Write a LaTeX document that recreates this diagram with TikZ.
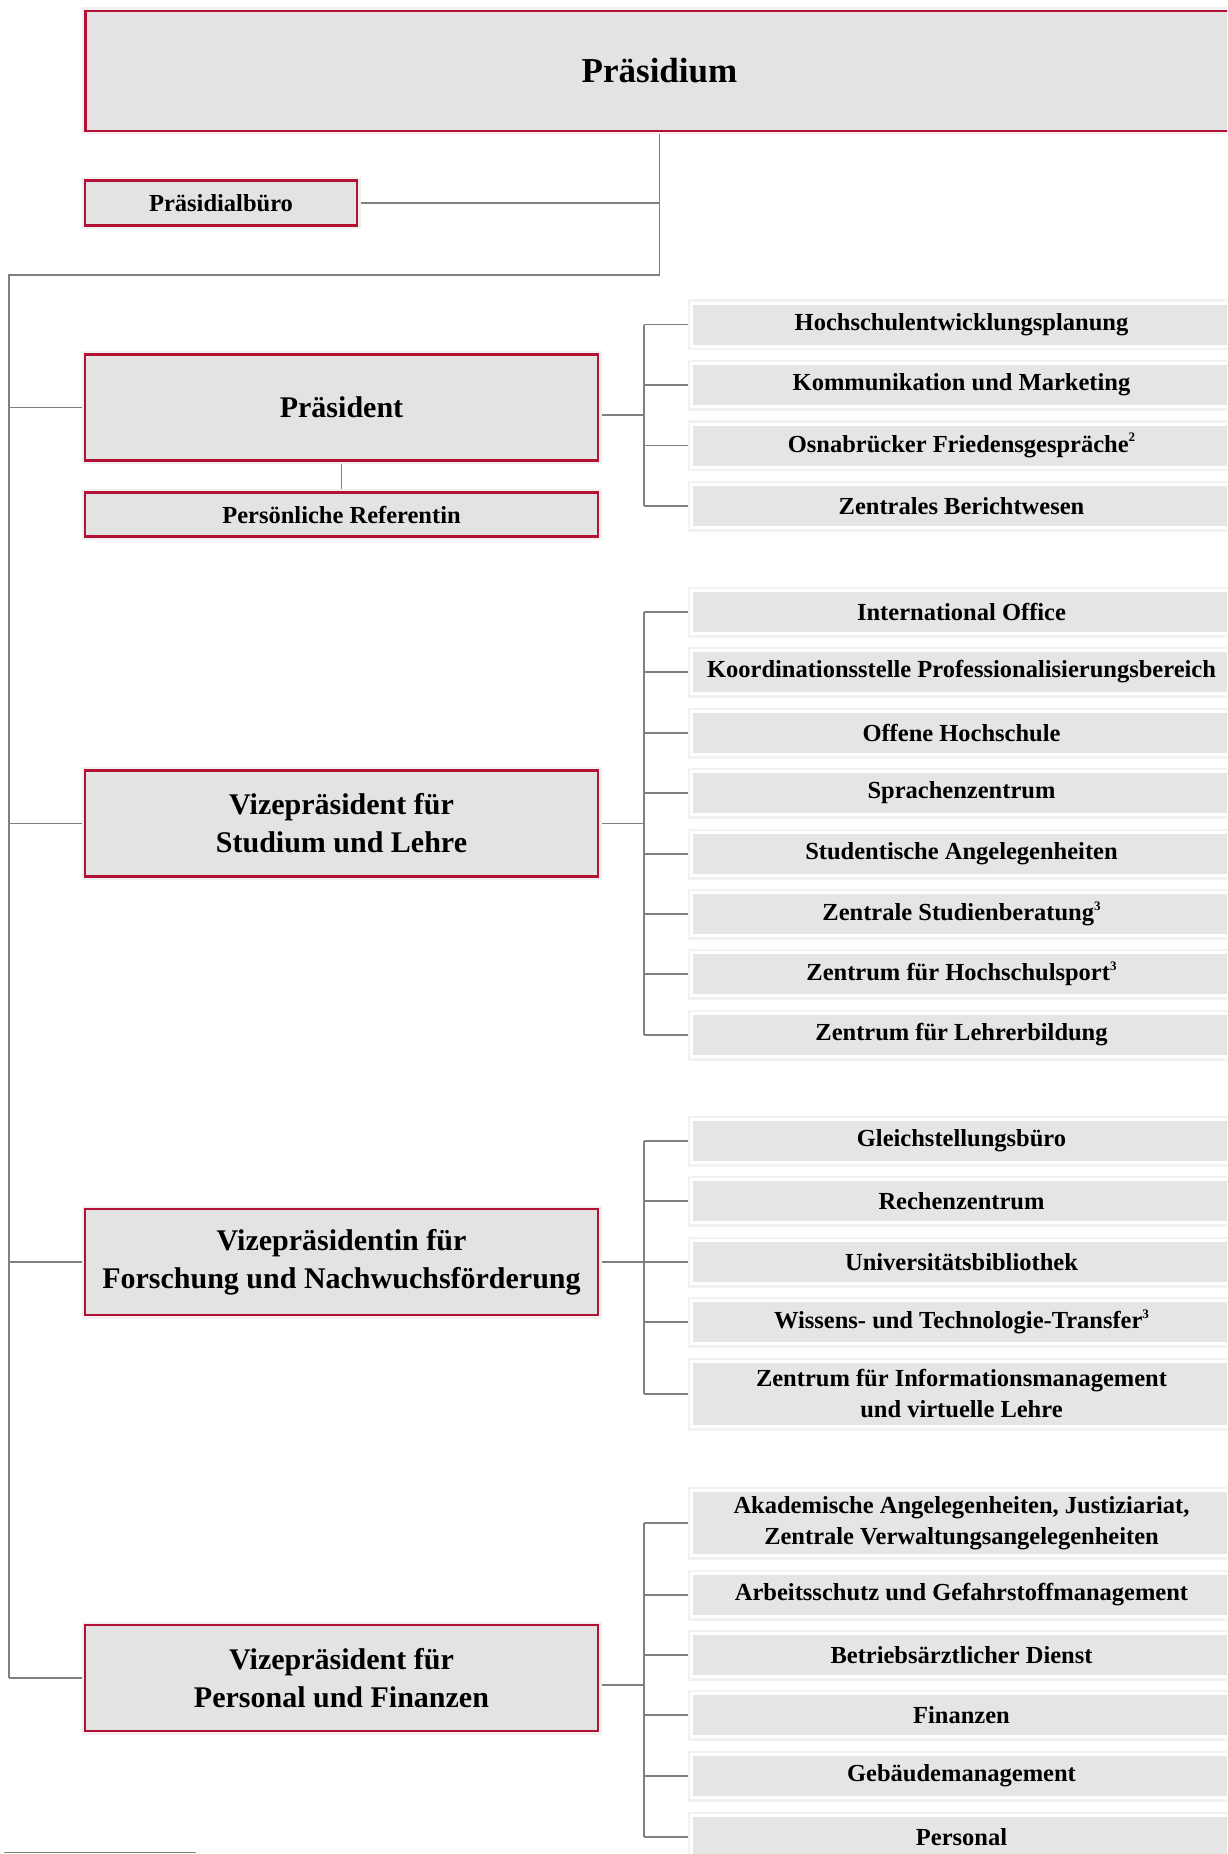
\documentclass[tikz,border=0pt]{standalone}
\usepackage{fontspec}
\setmainfont{Liberation Serif}
\usetikzlibrary{backgrounds,calc}
\definecolor{uosred}{RGB}{178,18,52}
\definecolor{bigfill}{RGB}{227,227,227}
\definecolor{unitfill}{RGB}{229,229,229}
\definecolor{conngray}{RGB}{128,128,128}
\newcommand\fnsup[1]{\raisebox{0.42em}{\fontsize{13}{13}\selectfont #1}}
\tikzset{
  redbox/.style={draw=uosred, line width=2.5pt, fill=bigfill, inner sep=0pt, align=center,
    font=\bfseries\fontsize{30}{38}\selectfont,
    preaction={draw=black!6, line width=7pt}},
  smallred/.style={redbox, font=\bfseries\fontsize{24.5}{31}\selectfont},
  unitbox/.style={draw=white, line width=3pt, fill=unitfill, inner sep=0pt, align=center,
    font=\bfseries\fontsize{24.5}{31}\selectfont, minimum width=540pt, minimum height=43pt,
    anchor=west, preaction={draw=black!5, line width=8pt}},
  tallunit/.style={unitbox, minimum height=65pt},
  conn/.style={draw=conngray, line width=1.8pt},
  footline/.style={draw=conngray, line width=1.5pt}
}
\begin{document}
\begin{tikzpicture}[x=1pt,y=-1pt]
\useasboundingbox (0,0) rectangle (1227,1854);
\clip (0,0) rectangle (1227,1854);

% main boxes
\node[redbox, minimum width=1148pt, minimum height=120pt, font=\bfseries\fontsize{35}{40}\selectfont] (prae) at (659.5,71) {Präsidium};
\node[smallred, minimum width=272pt, minimum height=45pt] (buero) at (221,203) {Präsidialbüro};
\node[redbox, minimum width=513pt, minimum height=106pt] (praes) at (341.5,407.5) {Präsident};
\node[smallred, minimum width=513pt, minimum height=44pt] (ref) at (341.5,514.5) {Persönliche Referentin};
\node[redbox, minimum width=513pt, minimum height=106pt] (vps) at (341.5,823.5) {Vizepräsident für\\Studium und Lehre};
\node[redbox, minimum width=513pt, minimum height=106pt] (vpf) at (341.5,1262) {Vizepräsidentin für\\Forschung und Nachwuchsförderung};
\node[redbox, minimum width=513pt, minimum height=106pt] (vpp) at (341.5,1678) {Vizepräsident für\\Personal und Finanzen};

% unit boxes
\node[unitbox] (p1) at (690,324.5) {Hochschulentwicklungsplanung};
\node[unitbox] (p2) at (690,385) {Kommunikation und Marketing};
\node[unitbox] (p3) at (690,445.5) {Osnabrücker Friedensgespräche\fnsup{2}};
\node[unitbox] (p4) at (690,506) {Zentrales Berichtwesen};

\node[unitbox] (s1) at (690,612) {International Office};
\node[unitbox] (s2) at (690,672) {Koordinationsstelle Professionalisierungsbereich};
\node[unitbox] (s3) at (690,733) {Offene Hochschule};
\node[unitbox] (s4) at (690,793) {Sprachenzentrum};
\node[unitbox] (s5) at (690,854) {Studentische Angelegenheiten};
\node[unitbox] (s6) at (690,914) {Zentrale Studienberatung\fnsup{3}};
\node[unitbox] (s7) at (690,974) {Zentrum für Hochschulsport\fnsup{3}};
\node[unitbox] (s8) at (690,1035) {Zentrum für Lehrerbildung};

\node[unitbox] (f1) at (690,1141) {Gleichstellungsbüro};
\node[unitbox] (f2) at (690,1201) {Rechenzentrum};
\node[unitbox] (f3) at (690,1262) {Universitätsbibliothek};
\node[unitbox] (f4) at (690,1322) {Wissens- und Technologie-Transfer\fnsup{3}};
\node[tallunit] (f5) at (690,1394) {Zentrum für Informationsmanagement\\und virtuelle Lehre};

\node[tallunit] (v1) at (690,1523) {Akademische Angelegenheiten, Justiziariat,\\Zentrale Verwaltungsangelegenheiten};
\node[unitbox] (v2) at (690,1595) {Arbeitsschutz und Gefahrstoffmanagement};
\node[unitbox] (v3) at (690,1655) {Betriebsärztlicher Dienst};
\node[unitbox] (v4) at (690,1715) {Finanzen};
\node[unitbox] (v5) at (690,1776) {Gebäudemanagement};
\node[unitbox] (v6) at (690,1837) {Personal};

% connectors
\coordinate (jA) at (659.5,275);
\coordinate (tTop) at (9,275);
\coordinate (bP) at (644,415);
\coordinate (bS) at (644,823.5);
\coordinate (bF) at (644,1262);
\coordinate (bV) at (644,1685);
\begin{scope}[on background layer]
\fill[white] (0,0) rectangle (1227,1854);
\draw[conn] (prae.south) -- (jA) -- (tTop) -- (vpp.west -| tTop);
\draw[conn] (buero.east) -- (buero.east -| jA);
\draw[conn] (praes.west -| tTop) -- (praes.west);
\draw[conn] (vps.west -| tTop) -- (vps.west);
\draw[conn] (vpf.west -| tTop) -- (vpf.west);
\draw[conn] (vpp.west -| tTop) -- (vpp.west);
\draw[conn] (praes.south) -- (ref.north);

\draw[conn] (praes.east |- bP) -- (bP);
\draw[conn] (p1.west -| bP) -- (p4.west -| bP);
\foreach \n in {p1,p2,p3,p4} \draw[conn] (\n.west -| bP) -- (\n.west);

\draw[conn] (vps.east) -- (bS);
\draw[conn] (s1.west -| bS) -- (s8.west -| bS);
\foreach \n in {s1,s2,s3,s4,s5,s6,s7,s8} \draw[conn] (\n.west -| bS) -- (\n.west);

\draw[conn] (vpf.east) -- (bF);
\draw[conn] (f1.west -| bF) -- (f5.west -| bF);
\foreach \n in {f1,f2,f3,f4,f5} \draw[conn] (\n.west -| bF) -- (\n.west);

\draw[conn] (vpp.east |- bV) -- (bV);
\draw[conn] (v1.west -| bV) -- (v6.west -| bV);
\foreach \n in {v1,v2,v3,v4,v5,v6} \draw[conn] (\n.west -| bV) -- (\n.west);
\end{scope}

% footnote rule
\draw[footline] (4,1852.5) -- (196,1852.5);
\end{tikzpicture}
\end{document}
